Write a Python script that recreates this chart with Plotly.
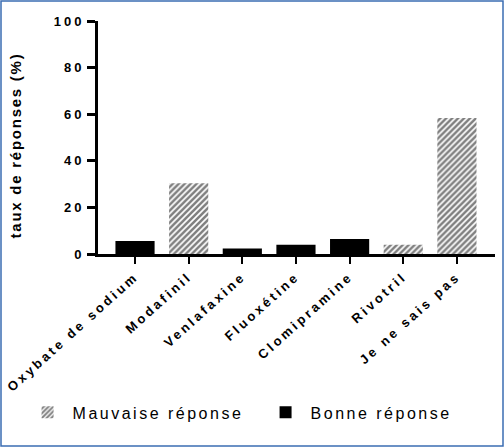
import plotly.graph_objects as go

categories = ["Oxybate de sodium", "Modafinil", "Venlafaxine", "Fluoxétine",
              "Clomipramine", "Rivotril", "Je ne sais pas"]
mauvaise = [None, 30.4, None, None, None, 4.0, 58.4]
bonne = [5.6, None, 2.4, 4.0, 6.4, None, None]
y_ticks = [0, 20, 40, 60, 80, 100]

W, H = 504, 447
L, R, T, B = 98, 9, 21, 193
pw, ph = W - L - R, H - T - B

fig = go.Figure()
fig.add_trace(go.Bar(
    x=categories, y=mauvaise, name="Mauvaise réponse", width=0.73,
    marker=dict(color="white", line=dict(width=0),
                pattern=dict(shape="/", fgcolor="black", bgcolor="white",
                             size=4.2, solidity=0.6)),
))
fig.add_trace(go.Bar(
    x=categories, y=bonne, name="Bonne réponse", width=0.73,
    marker=dict(color="black", line=dict(width=0)),
))

fig.update_layout(
    width=W, height=H,
    margin=dict(l=L, r=R, t=T, b=B, autoexpand=False),
    paper_bgcolor="white", plot_bgcolor="white",
    barmode="overlay",
    font=dict(family="Liberation Sans, Arial, sans-serif", color="black"),
    showlegend=True,
    legend=dict(orientation="h", x=-0.19, xanchor="left", y=-0.68, yanchor="middle",
                font=dict(size=16), itemwidth=40, entrywidth=183,
                bgcolor="rgba(0,0,0,0)"),
    shapes=[dict(type="rect", xref="paper", yref="paper",
                 x0=-(L - 1) / pw, x1=1 + (R - 1) / pw,
                 y0=-(B - 1) / ph, y1=1 + (T - 1) / ph,
                 line=dict(color="#3b6db3", width=1.5), layer="below")],
)
fig.update_xaxes(
    type="category", range=[-0.69, 6.71], tickangle=-42,
    showline=True, linecolor="black", linewidth=3,
    ticks="outside", ticklen=7, tickwidth=2, tickcolor="black",
    tickfont=dict(size=13, weight="bold"), showgrid=False, zeroline=False,
)
fig.update_yaxes(
    range=[0, 100], tickvals=y_ticks,
    showline=True, linecolor="black", linewidth=3,
    ticks="outside", ticklen=8, tickwidth=3, tickcolor="black",
    tickfont=dict(size=13, weight="bold"), showgrid=False, zeroline=False,
    title=dict(text="taux de réponses (%)", font=dict(size=15, weight="bold"), standoff=38),
)

css = ("<style>body{margin:0 !important}"
       ".xtick text{letter-spacing:3px !important}"
       ".ytick text{letter-spacing:3px !important}"
       ".g-ytitle text{letter-spacing:1.75px !important}"
       ".g-ytitle{transform:translateY(8px)}"
       ".legendtext{letter-spacing:2.5px !important}</style>")
post = "document.head.insertAdjacentHTML('beforeend', '" + css + "');"

fig.write_html("out.html", post_script=post, config={"displayModeBar": False})
